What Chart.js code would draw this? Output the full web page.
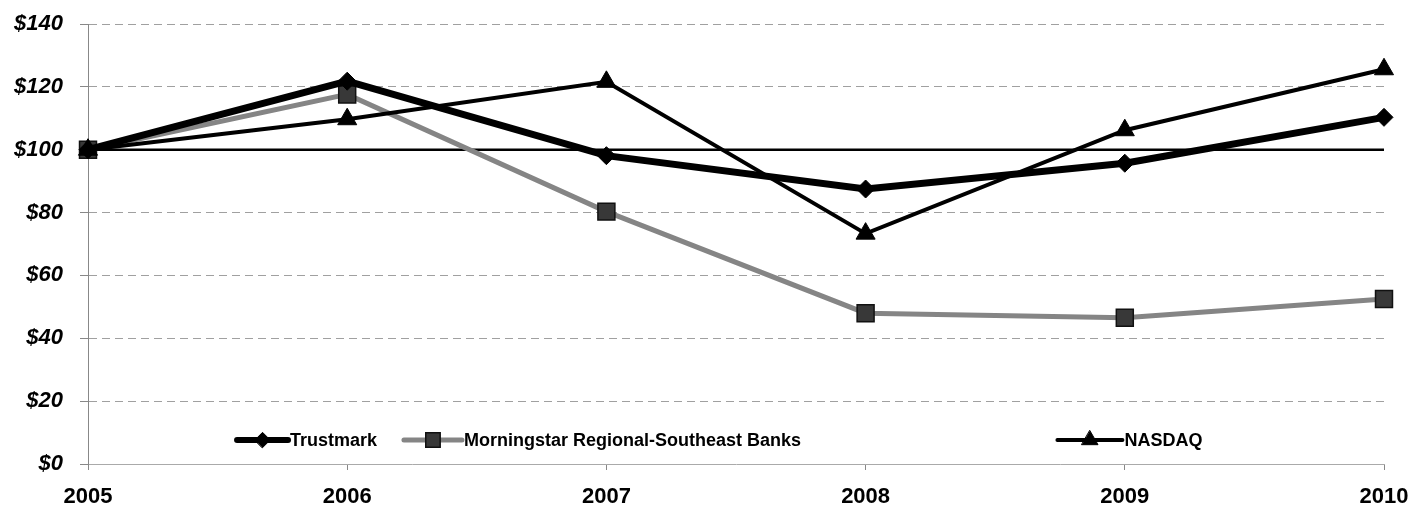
<!DOCTYPE html>
<html>
<head>
<meta charset="utf-8">
<script src="https://cdn.jsdelivr.net/npm/chart.js@4.4.1/dist/chart.umd.min.js"></script>
<style>
  html, body { margin: 0; padding: 0; background: #fff; }
  #wrap { width: 1415px; height: 506px; position: relative; }
</style>
</head>
<body>
<div id="wrap"><canvas id="c"></canvas></div>
<script>
// ---- data ----
const years = ['2005', '2006', '2007', '2008', '2009', '2010'];
const trustmark = [100, 121.8, 98.1, 87.5, 95.7, 110.3];
const morningstar = [100, 117.6, 80.3, 48.0, 46.5, 52.5];
const nasdaq = [100, 109.7, 121.6, 73.3, 106.2, 125.6];
const baseline = [100, 100, 100, 100, 100, 100];
const seriesNames = ['Trustmark', 'Morningstar Regional-Southeast Banks', 'NASDAQ'];
const yTickValues = [0, 20, 40, 60, 80, 100, 120, 140];
const yTickLabels = ['$0', '$20', '$40', '$60', '$80', '$100', '$120', '$140'];

const FONT = '"Liberation Sans", Arial, sans-serif';

// custom legend drawn inside the chart area
const legendItems = [
  { ds: 0, start: 0.115, sample: 51 },
  { ds: 1, start: 0.2438, sample: 58 },
  { ds: 2, start: 0.748, sample: 65 }
];
const insideLegend = {
  id: 'insideLegend',
  afterDatasetsDraw(chart) {
    const ctx = chart.ctx;
    const area = chart.chartArea;
    const y = area.bottom - 24;
    ctx.save();
    legendItems.forEach(it => {
      const ds = chart.data.datasets[it.ds];
      const x0 = area.left + it.start * (area.right - area.left);
      const x1 = x0 + it.sample;
      ctx.strokeStyle = ds.borderColor;
      ctx.lineWidth = Math.min(ds.borderWidth, 6);
      ctx.lineCap = 'round';
      ctx.beginPath();
      ctx.moveTo(x0, y);
      ctx.lineTo(x1, y);
      ctx.stroke();
      ctx.fillStyle = ds.pointBackgroundColor;
      ctx.strokeStyle = ds.pointBorderColor;
      ctx.lineWidth = ds.pointBorderWidth;
      Chart.helpers.drawPoint(ctx, {
        pointStyle: ds.pointStyle,
        rotation: 0,
        radius: ds.pointRadius * 0.85,
        borderWidth: ds.pointBorderWidth
      }, (x0 + x1) / 2, y);
      ctx.fillStyle = '#000';
      ctx.font = 'bold 18px ' + FONT;
      ctx.textBaseline = 'middle';
      ctx.textAlign = 'left';
      ctx.fillText(seriesNames[it.ds], x1 + 2, y + 1);
    });
    ctx.restore();
  }
};

new Chart(document.getElementById('c'), {
  type: 'line',
  data: {
    labels: years,
    datasets: [
      {
        label: seriesNames[0], data: trustmark,
        borderColor: '#000', borderWidth: 7, tension: 0,
        pointStyle: 'rectRot', pointRadius: 9, pointBackgroundColor: '#000',
        pointBorderColor: '#000', pointBorderWidth: 1, order: 1
      },
      {
        label: seriesNames[1], data: morningstar,
        borderColor: '#858585', borderWidth: 5, tension: 0,
        pointStyle: 'rect', pointRadius: 12, pointBackgroundColor: '#383838',
        pointBorderColor: '#111', pointBorderWidth: 1.5, order: 3
      },
      {
        label: seriesNames[2], data: nasdaq,
        borderColor: '#000', borderWidth: 4, tension: 0,
        pointStyle: 'triangle', pointRadius: 11, pointBackgroundColor: '#000',
        pointBorderColor: '#000', pointBorderWidth: 1, order: 2
      },
      {
        label: 'Base', data: baseline,
        borderColor: '#000', borderWidth: 2.5, tension: 0,
        pointRadius: 0, order: 10
      }
    ]
  },
  options: {
    responsive: true,
    maintainAspectRatio: false,
    animation: false,
    devicePixelRatio: 1,
    layout: { autoPadding: false, padding: { top: 24, right: 31, bottom: 0, left: 12 } },
    plugins: { legend: { display: false }, tooltip: { enabled: false } },
    scales: {
      x: {
        type: 'category',
        offset: false,
        afterFit(scale) { scale.paddingLeft = 0; scale.paddingRight = 0; scale.height = 42; },
        grid: { drawOnChartArea: false, drawTicks: true, tickLength: 6, color: '#888', tickWidth: 1 },
        border: { display: true, color: '#aaa', width: 1 },
        ticks: { color: '#000', font: { family: FONT, size: 22, weight: 'bold', lineHeight: 1 }, padding: 16, maxRotation: 0 }
      },
      y: {
        min: 0, max: 140,
        afterBuildTicks(scale) { scale.ticks = yTickValues.map(v => ({ value: v })); },
        afterFit(scale) { scale.paddingTop = 0; scale.paddingBottom = 0; scale.width = 76; },
        grid: { color: '#a0a0a0', lineWidth: 1, drawTicks: true, tickLength: 8, tickBorderDash: [], tickColor: '#888' },
        border: { display: true, color: '#888', width: 1, dash: [8, 5] },
        ticks: {
          color: '#000', padding: 17,
          font: { family: FONT, size: 22, weight: 'bold', style: 'italic' },
          callback: (v) => yTickLabels[yTickValues.indexOf(v)]
        }
      }
    }
  },
  plugins: [insideLegend]
});
</script>
</body>
</html>
